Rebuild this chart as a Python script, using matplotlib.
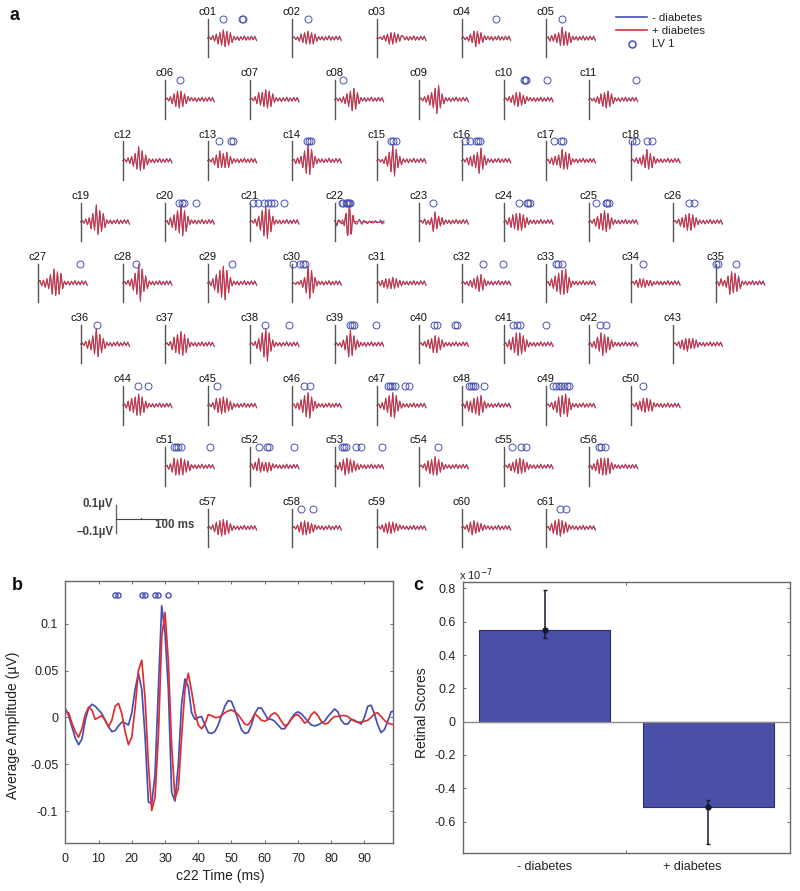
import numpy as np
import matplotlib
matplotlib.use("Agg")
import matplotlib.pyplot as plt

plt.rcParams['font.family'] = ['Liberation Sans', 'DejaVu Sans']

# panel b, c22, one value per ms (uV)
c22_blue = [0.01, 0.002, -0.01, -0.022, -0.029, -0.023, -0.003, 0.01, 0.014, 0.012,
            0.008, 0.004, -0.003, -0.01, -0.015, -0.014, -0.009, -0.005, -0.006, -0.008,
            0.005, 0.03, 0.047, 0.03, -0.02, -0.09, -0.092, -0.06, 0.03, 0.119,
            0.09, 0.03, -0.08, -0.089, -0.05, 0.015, 0.041, 0.033, 0.005, -0.002,
            0.0, 0.001, -0.008, -0.016, -0.017, -0.015, -0.008, 0.002, 0.012, 0.018,
            0.017, 0.008, -0.003, -0.013, -0.017, -0.016, -0.008, 0.004, 0.01, 0.01,
            0.004, -0.002, -0.002, -0.004, -0.008, -0.012, -0.012, -0.007, -0.001, 0.004,
            0.006, 0.004, 0.0, -0.004, -0.008, -0.009, -0.008, -0.006, -0.004, 0.001,
            0.005, 0.009, 0.006, -0.003, -0.007, -0.007, -0.002, -0.003, -0.005, -0.007,
            0.0, 0.012, 0.013, 0.004, -0.008, -0.016, -0.013, -0.004, 0.006, 0.007]
c22_red = [0.006, 0.005, -0.006, -0.015, -0.021, -0.012, 0.003, 0.011, 0.008, -0.002,
           0.0, 0.002, -0.003, -0.01, -0.003, 0.012, 0.015, 0.004, -0.015, -0.029,
           -0.021, 0.01, 0.05, 0.061, 0.02, -0.05, -0.099, -0.085, -0.02, 0.085,
           0.112, 0.06, -0.03, -0.086, -0.076, -0.02, 0.03, 0.047, 0.028, 0.006,
           -0.008, -0.012, -0.007, 0.003, 0.002, 0.0, 0.0, 0.002, 0.005, 0.007,
           0.008, 0.006, 0.003, -0.002, -0.007, -0.008, -0.003, 0.004, 0.001, -0.003,
           -0.004, -0.002, 0.003, 0.005, 0.002, -0.004, -0.009, -0.007, -0.002, 0.002,
           0.003, -0.001, -0.006, -0.004, 0.003, 0.006, 0.002, -0.004, -0.007, -0.006,
           -0.002, 0.001, 0.001, 0.002, 0.002, 0.001, -0.002, -0.004, -0.005, -0.005,
           -0.004, -0.003, 0.0, 0.004, 0.005, 0.001, -0.003, -0.006, -0.007, -0.008]
c22_lv = [15, 16, 23, 24, 27, 28, 31]

# successive extremes of each small trace, one every half period, in 0.01 uV
burst_peaks = [
    [1, -1, 2, -2, 3, -4, 4, -5, 6, -6, 5, -5, 4, -3],  # c01
    [1, -1, 1, -2, 3, -3, 4, -4, 5, -4, 4, -4, 3, -2],
    [0, 1, -1, 2, -2, 3, -4, 4, -4, 4, -3, 3, -2, 2],
    [1, -1, 1, -2, 3, -3, 5, -6, 5, -4, 4, -3, 2, -1],
    [1, -2, 2, -2, 3, -3, 4, -5, 8, -5, 5, -5, 4, -3],  # c05
    [1, -1, 2, -3, 4, -5, 6, -6, 6, -5, 4, -3, 2, -1],
    [1, -1, 2, -3, 5, -4, 5, -5, 7, -6, 6, -5, 4, -2],
    [1, -1, 1, -2, 2, -3, 4, -5, 6, -8, 8, -7, 5, -3],
    [1, -1, 2, -2, 3, -4, 5, -6, 8, -10, 10, -6, 4, -3],
    [1, -1, 2, -2, 3, -4, 5, -5, 5, -4, 3, -3, 2, -1],  # c10
    [1, -1, 1, -2, 2, -3, 4, -5, 5, -6, 6, -5, 4, -3],
    [1, -1, 2, -2, 3, -4, 5, -6, 10, -7, 7, -6, 4, -3],
    [1, -1, 2, -3, 4, -5, 7, -5, 5, -5, 6, -5, 3, -2],
    [1, -2, 2, -2, 3, -5, 7, -9, 11, -10, 8, -5, 3, -2],
    [1, -1, 1, -2, 3, -4, 6, -8, 11, -11, 8, -5, 3, -3],  # c15
    [1, -1, 2, -3, 3, -4, 4, -5, 6, -9, 9, -6, 4, -3],
    [1, -2, 2, -3, 3, -3, 4, -5, 8, -6, 6, -6, 5, -3],
    [1, -1, 2, -2, 2, -3, 4, -5, 8, -6, 5, -5, 3, -2],
    [1, -1, 2, -2, 3, -5, 6, -6, 12, -9, 8, -7, 6, -4],
    [1, -2, 3, -4, 5, -6, 8, -8, 12, -10, 8, -7, 4, -2],  # c20
    [1, -1, 2, -3, 4, -6, 8, -10, 11, -12, 9, -7, 4, -2],
    None,  # c22 uses the panel b traces
    [1, -1, 2, -2, 1, -2, 3, -7, 7, -5, 4, -3, 3, -2],
    [1, -2, 3, -4, 5, -5, 6, -6, 6, -6, 5, -4, 3, -2],
    [1, -1, 2, -3, 4, -5, 6, -6, 8, -7, 6, -5, 3, -2],  # c25
    [1, -1, 2, -3, 3, -4, 5, -6, 6, -6, 5, -4, 3, -2],
    [2, -2, 2, -3, 3, -4, 6, -8, 10, -9, 8, -8, 7, -4],
    [1, -1, 2, -2, 3, -5, 7, -8, 13, -13, 10, -6, 5, -4],
    [1, -2, 3, -5, 6, -7, 9, -10, 12, -12, 9, -7, 4, -2],
    [0, -1, 1, -1, 2, -3, 4, -7, 12, -11, 9, -7, 4, -2],  # c30
    [1, -2, 2, -3, 3, -4, 3, -4, 4, -4, 3, -3, 2, -2],
    [1, -1, 1, -2, 2, -3, 3, -4, 5, -6, 6, -5, 3, -2],
    [1, -2, 3, -4, 5, -6, 7, -8, 9, -8, 10, -7, 4, -3],
    [1, -1, 2, -3, 3, -3, 3, -3, 2, -2, 2, -2, 1, -1],
    [1, -2, 3, -2, 2, -3, 5, -8, 8, -7, 7, -6, 5, -4],  # c35
    [1, -1, 2, -3, 3, -4, 6, -7, 11, -9, 7, -6, 4, -3],
    [1, -1, 2, -4, 5, -6, 7, -7, 9, -8, 7, -6, 4, -2],
    [1, -1, 2, -3, 4, -5, 8, -9, 11, -12, 8, -5, 3, -2],
    [1, -1, 1, -2, 3, -4, 6, -9, 10, -8, 6, -4, 3, -2],
    [1, -1, 2, -2, 3, -3, 4, -6, 6, -6, 5, -4, 3, -2],  # c40
    [1, -2, 3, -4, 5, -6, 8, -8, 8, -7, 6, -5, 3, -2],
    [1, -2, 2, -3, 5, -5, 8, -8, 7, -6, 5, -4, 3, -2],
    [1, -1, 2, -3, 3, -4, 4, -5, 4, -3, 4, -3, 3, -2],
    [1, -2, 3, -4, 5, -5, 6, -7, 8, -7, 6, -5, 3, -2],
    [1, -1, 2, -3, 5, -5, 5, -6, 6, -5, 5, -4, 3, -3],  # c45
    [1, -2, 2, -3, 4, -5, 7, -8, 9, -9, 6, -4, 3, -2],
    [1, -2, 2, -3, 5, -5, 7, -8, 9, -9, 7, -4, 3, -2],
    [1, -2, 3, -4, 3, -5, 5, -6, 6, -7, 7, -5, 3, -2],
    [1, -1, 2, -3, 3, -5, 6, -8, 7, -6, 8, -8, 5, -3],
    [1, -1, 2, -3, 3, -4, 5, -5, 5, -4, 4, -4, 2, -1],  # c50
    [1, -2, 2, -4, 6, -6, 5, -6, 6, -6, 5, -4, 4, -3],
    [2, -2, 3, -3, 6, -4, 3, -3, 3, -4, 3, -3, 2, -1],
    [1, -2, 3, -3, 5, -6, 6, -5, 5, -4, 4, -3, 2, -2],
    [1, -1, 2, -3, 4, -5, 5, -6, 7, -6, 5, -4, 3, -2],
    [1, -1, 2, -3, 3, -4, 5, -5, 6, -5, 5, -4, 3, -2],  # c55
    [1, -2, 2, -3, 5, -5, 6, -6, 6, -6, 6, -5, 3, -2],
    [1, -1, 2, -3, 4, -5, 5, -6, 6, -5, 5, -4, 3, -2],
    [1, -1, 2, -3, 4, -5, 5, -5, 4, -4, 3, -3, 2, -1],
    [1, -1, 2, -3, 3, -4, 4, -4, 4, -3, 3, -2, 2, -1],
    [1, -1, 2, -3, 4, -5, 5, -4, 4, -3, 3, -2, 2, -1],  # c60
    [1, -2, 3, -4, 5, -5, 6, -6, 5, -4, 4, -3, 2, -1],
]
# the late ripple is much the same everywhere
red_tail = [1.2, -1.0, 1.4, -1.2, 1.0, -1.2, 1.4, -1.0, 1.2, -0.8, 1.4, -1.2, 1.0, -1.2]
blue_tail = [1.5, -1.2, 0.8, -1.6, 1.3, -0.9, 1.8, -1.5, 1.0, -1.4, 1.6, -0.8, 1.6, -1.8]

# LV 1 circle times per channel (ms)
lv_times = [
    [31, 69, 71], [31], [], [68], [31],
    [30], [], [16], [], [40, 42, 44, 86], [94],
    [], [23, 47, 50], [29, 33, 38], [27, 32, 37], [7, 16, 28, 33, 37], [16, 30, 34], [2, 9, 32, 42],
    [], [28, 33, 37, 61], [6, 16, 29, 36, 43, 48, 69], c22_lv, [27], [30, 45, 48, 52], [15, 34, 37, 41], [32, 42],
    [83], [27], [49], [2, 16, 21, 26], [], [42, 83], [20, 24, 31], [24], [0, 5, 41],
    [33], [], [31, 79], [30, 35, 39, 83], [30, 35, 72, 76], [18, 25, 32, 83], [23, 34], [],
    [31, 50], [19], [23, 35], [21, 25, 29, 35, 56, 64], [14, 18, 22, 26, 44], [14, 19, 25, 30, 35, 41, 45], [23],
    [17, 21, 25, 32, 89], [19, 34, 39, 89], [14, 19, 23, 42, 53, 95], [37], [15, 34, 43], [20, 25, 33],
    [], [18, 42], [], [], [28, 40],
]
row_counts = [5, 6, 7, 8, 9, 8, 7, 6, 5]

# panel c
groups = ['- diabetes', '+ diabetes']
scores = [0.55, -0.51]
err_low = [0.50, -0.735]
err_high = [0.79, -0.47]

BLUE = '#4650b4'
RED = '#dc2f33'
BAR = '#4a50a8'
GREY = '#6a6a6a'
TXT = '#222222'
W, H = 800, 891

fig = plt.figure(figsize=(W / 100, H / 100), dpi=100, facecolor='white')


def axes_px(left, top, right, bottom):
    return fig.add_axes([left / W, 1 - bottom / H, (right - left) / W, (bottom - top) / H])


fig.text(10 / W, 1 - 16 / H, 'a', fontsize=13, fontweight='bold', va='center', color='#111111')
fig.text(12 / W, 1 - 585 / H, 'b', fontsize=13, fontweight='bold', va='center', color='#111111')
fig.text(413 / W, 1 - 585 / H, 'c', fontsize=13, fontweight='bold', va='center', color='#111111')

# panel a, small multiples: 100 ms = 50 px, 1 uV = 140 px
half_period = 3.5
peak_times = np.arange(29) * half_period
idx = 0
for r, n in enumerate(row_counts):
    y0 = 38.3 + r * 61.18
    for k in range(n):
        x0 = 377 - (n - 1) / 2 * 84.7 + k * 84.7
        ax = axes_px(x0, y0 - 19.2, x0 + 50, y0 + 19.2)
        ax.set_xlim(0, 100)
        ax.set_ylim(-0.137, 0.137)
        ax.axis('off')
        if burst_peaks[idx] is None:
            ax.plot(range(100), c22_blue, color=BLUE, lw=0.7, clip_on=False)
            ax.plot(range(100), c22_red, color=RED, lw=0.7, clip_on=False)
        else:
            start = [0.0] + burst_peaks[idx]
            ax.plot(peak_times, np.array(start + blue_tail) / 100, color=BLUE, lw=0.7, clip_on=False)
            ax.plot(peak_times, np.array(start + red_tail) / 100, color=RED, lw=0.7, clip_on=False)
        ax.plot([0, 0], [-0.137, 0.137], color='#555555', lw=1.0, clip_on=False)
        ax.plot(lv_times[idx], [0.137] * len(lv_times[idx]), 'o', mfc='none', mec=BLUE,
                ms=5.0, mew=0.7, clip_on=False)
        ax.text(-1, 0.186, 'c%02d' % (idx + 1), fontsize=8, ha='center', va='center',
                color='#111111', clip_on=False)
        idx += 1

# legend of panel a
leg = axes_px(0, 0, W, H)
leg.set_xlim(0, W)
leg.set_ylim(H, 0)
leg.axis('off')
leg.patch.set_alpha(0)
leg.plot([616, 647], [17, 17], color=BLUE, lw=1.2)
leg.plot([616, 647], [30, 30], color=RED, lw=1.2)
leg.plot([631.7], [43.7], 'o', mfc='none', mec=BLUE, ms=5, mew=1.1)
leg.text(652.5, 18, '- diabetes', fontsize=8.2, va='center', color=TXT)
leg.text(652.5, 31, '+ diabetes', fontsize=8.2, va='center', color=TXT)
leg.text(652.5, 44, 'LV 1', fontsize=8.2, va='center', color=TXT)

# scale bar
sb = axes_px(116, 518.5 - 14, 166, 518.5 + 14)
sb.set_xlim(0, 100)
sb.set_ylim(-0.1, 0.1)
sb.axis('off')
sb.plot([0, 0], [-0.1, 0.1], color='#666666', lw=1.0, clip_on=False)
sb.plot([0, 100], [0, 0], color='#444444', lw=0.8, clip_on=False)
sb.plot([50, 50], [-0.004, 0.004], color='#444444', lw=0.8)
sb.text(-5, 0.1, '0.1\u00b5V', fontsize=8.3, fontweight='bold', ha='right', va='center', color='#444444')
sb.text(-5, -0.1, '\u20130.1\u00b5V', fontsize=8.3, fontweight='bold', ha='right', va='center', color='#444444')
sb.text(78, -0.05, '100 ms', fontsize=8.3, fontweight='bold', ha='left', va='center', color='#444444')

# panel b
axb = axes_px(65.3, 581.3, 392.7, 843.3)
axb.plot(range(100), c22_blue, color=BLUE, lw=1.25)
axb.plot(range(100), c22_red, color=RED, lw=1.25)
axb.plot(c22_lv, [0.13] * len(c22_lv), 'o', mfc='none', mec=BLUE, ms=3.7, mew=1.0)
axb.set_xlim(0, 98.5)
axb.set_ylim(-0.134, 0.145)
axb.set_xticks(range(0, 100, 10))
axb.set_yticks([-0.1, -0.05, 0, 0.05, 0.1])
axb.set_yticklabels(['-0.1', '-0.05', '0', '0.05', '0.1'])
axb.tick_params(direction='in', length=2.5, width=0.7, color=GREY, labelsize=9, labelcolor=TXT, top=True, right=True, pad=5)
axb.tick_params(axis='x', pad=7)
axb.set_xlabel('c22 Time (ms)', fontsize=10, color=TXT, labelpad=3, x=0.4725)
axb.set_ylabel('Average Amplitude (\u00b5V)', fontsize=10, color=TXT, labelpad=7, y=0.4515)
for s in axb.spines.values():
    s.set_color(GREY)
    s.set_linewidth(1.0)

# panel c
axc = axes_px(462.7, 581.7, 790, 853.3)
xpos = [1, 2]
axc.bar(xpos, scores, width=0.8, color=BAR, edgecolor='#2c2f66', linewidth=0.8, zorder=2)
axc.axhline(0, color='#8a8a8a', lw=1.0, zorder=3)
for x, s, lo, hi in zip(xpos, scores, err_low, err_high):
    axc.errorbar([x], [s], yerr=[[s - lo], [hi - s]], fmt='o', ms=3.5, color='#15182e',
                 elinewidth=1.1, capsize=1.5, capthick=1.0, zorder=4)
axc.set_xlim(0.5, 2.5)
axc.set_ylim(-0.79, 0.84)
axc.set_xticks([1.5])
axc.set_xticklabels([''])
axc.set_yticks([-0.6, -0.4, -0.2, 0, 0.2, 0.4, 0.6, 0.8])
axc.set_yticklabels(['-0.6', '-0.4', '-0.2', '0', '0.2', '0.4', '0.6', '0.8'])
axc.tick_params(direction='in', length=2.5, width=0.7, color=GREY, labelsize=9, labelcolor=TXT, top=True, right=True, pad=5)
axc.set_ylabel('Retinal Scores', fontsize=10, color=TXT, labelpad=4, y=0.518)
axc.text(1.0, -0.875, groups[0], fontsize=9, ha='center', va='center', color=TXT)
axc.text(1.9, -0.875, groups[1], fontsize=9, ha='center', va='center', color=TXT)
axc.text(0.48, 0.885, 'x 10$^{-7}$', fontsize=8, ha='left', va='center', color=TXT)
for s in axc.spines.values():
    s.set_color(GREY)
    s.set_linewidth(1.0)

fig.savefig('out.png', dpi=100)
